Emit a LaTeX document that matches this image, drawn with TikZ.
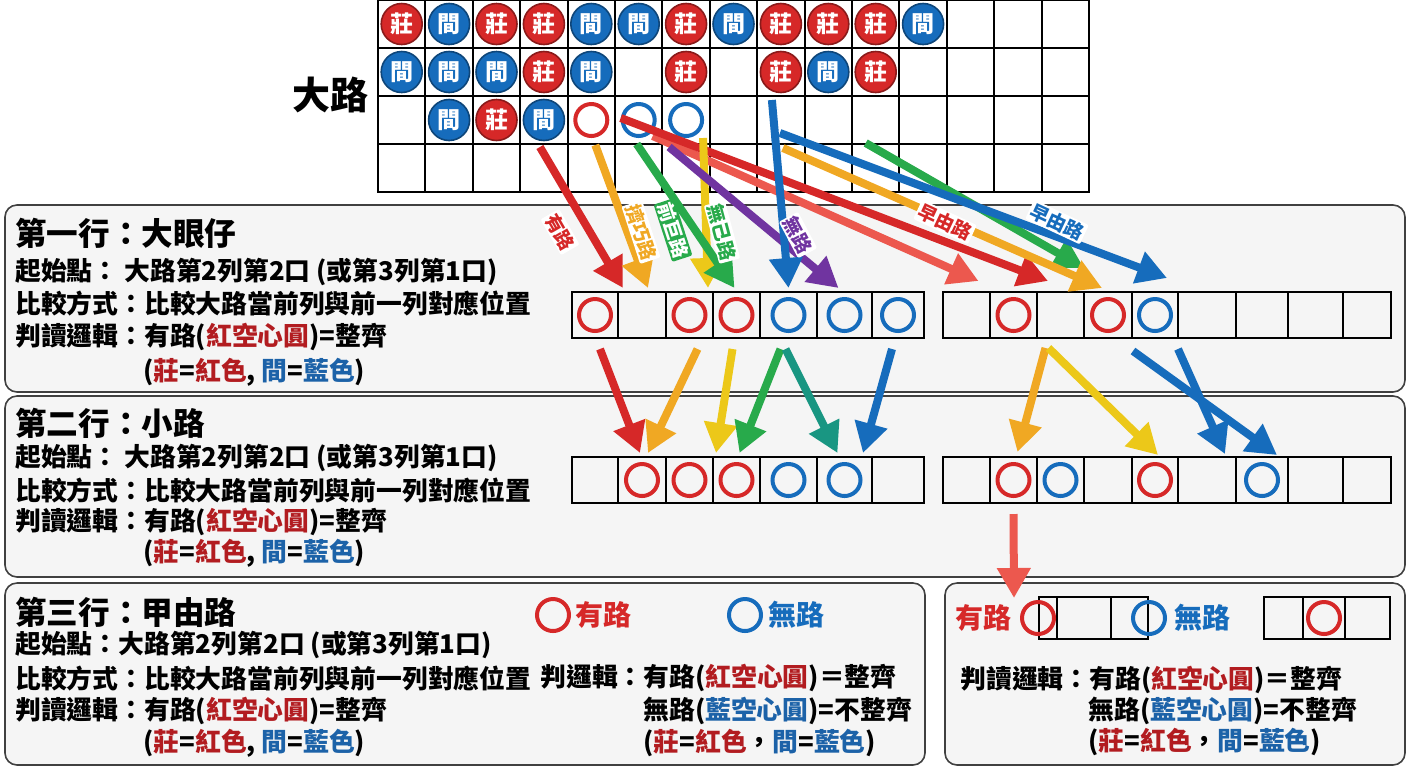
\documentclass[tikz,border=0pt]{standalone}
\usepackage{fontspec}
\setmainfont{Noto Sans CJK TC}
\usetikzlibrary{arrows.meta,calc}
\definecolor{cR}{RGB}{214,40,40}
\definecolor{cO}{RGB}{240,168,35}
\definecolor{cY}{RGB}{236,200,25}
\definecolor{cG}{RGB}{40,170,75}
\definecolor{cT}{RGB}{25,150,130}
\definecolor{cP}{RGB}{112,52,160}
\definecolor{cB}{RGB}{22,108,188}
\definecolor{cS}{RGB}{236,88,78}
\definecolor{tR}{RGB}{178,28,32}
\definecolor{tB}{RGB}{28,98,168}
\newcommand\redt[1]{\textcolor{tR}{#1}}
\newcommand\bluet[1]{\textcolor{tB}{#1}}
\begin{document}
\begin{tikzpicture}[x=0.5pt,y=-0.5pt,
    cell/.style={draw,line width=1pt,inner sep=0,minimum height=23pt},
    tok/.style={circle,draw=#1!65!black,line width=0.8pt,fill=#1,text=white,inner sep=0,minimum size=20.5pt,font=\bfseries\fontsize{11.5}{11.5}\selectfont},
    ring/.style={circle,draw=#1,line width=2pt,inner sep=0,minimum size=16pt},
    arr/.style={draw=#1,line width=4pt,-{Triangle[length=15pt,width=16pt]}},
    panel/.style={draw=black!75,line width=0.8pt,fill=black!4,rounded corners=6pt},
    ttl/.style={anchor=west,inner sep=0,font=\bfseries\fontsize{15.8}{16}\selectfont},
    txt/.style={anchor=west,inner sep=0,font=\bfseries\fontsize{12.9}{13}\selectfont},
    lgd/.style={anchor=west,inner sep=0,text=#1,font=\bfseries\fontsize{14}{14}\selectfont},
    tag/.style={fill=white,rounded corners=1pt,inner sep=0.8pt,text=#1,font=\bfseries\fontsize{9.5}{9.5}\selectfont},
    tagf/.style={fill=#1,rounded corners=1pt,inner sep=0.8pt,text=white,font=\bfseries\fontsize{9.5}{9.5}\selectfont}]
  \useasboundingbox (0,0) rectangle (1408,768);
  \draw[panel] (5,205) rectangle (1405,392);
  \draw[panel] (5,396) rectangle (1405,577);
  \draw[panel] (5,583) rectangle (925,765);
  \draw[panel] (945,583) rectangle (1405,765);
  % big road
  \node[font=\bfseries\fontsize{19}{19}\selectfont] (dalu) at (330,95) {大路};
  \foreach \r in {1,...,4}
    \foreach \c in {1,...,15}
      \node[cell,minimum width=23.7pt,minimum height=24pt] (g-\r-\c) at ({378+47.4*(\c-0.5)},{48*(\r-0.5)}) {};
  \foreach \r/\c in {1/1,1/3,1/4,1/7,1/9,1/10,1/11,2/4,2/7,2/9,2/11,3/3}
    \node[tok=cR] (z-\r-\c) at (g-\r-\c) {莊};
  \foreach \r/\c in {1/2,1/5,1/6,1/8,1/12,2/1,2/2,2/3,2/5,2/10,3/2,3/4}
    \node[tok=cB] (x-\r-\c) at (g-\r-\c) {間};
  \node[ring=cR] (h-3-5) at (g-3-5) {};
  \foreach \c in {6,7} \node[ring=cB] (h-3-\c) at (g-3-\c) {};
  % strips
  \foreach \i/\a/\b in {1/572/618,2/618/666,3/666/713,4/713/760,5/760/817,6/817/872,7/872/924} {
    \node[cell,minimum width={(\b-\a)*0.5pt}] (aL\i) at ({(\a+\b)/2},315) {};
    \node[cell,minimum width={(\b-\a)*0.5pt}] (bL\i) at ({(\a+\b)/2},480) {};
  }
  \foreach \i/\a/\b in {1/943/990,2/990/1037,3/1037/1084,4/1084/1132,5/1132/1178,6/1178/1236,7/1236/1288,8/1288/1343,9/1343/1391} {
    \node[cell,minimum width={(\b-\a)*0.5pt}] (aR\i) at ({(\a+\b)/2},315) {};
    \node[cell,minimum width={(\b-\a)*0.5pt}] (bR\i) at ({(\a+\b)/2},480) {};
  }
  \foreach \n/\c in {aL1/cR,aL3/cR,aL4/cR,aL5/cB,aL6/cB,aL7/cB,bL2/cR,bL3/cR,bL4/cR,bL5/cB,bL6/cB,aR2/cR,aR4/cR,aR5/cB,bR2/cR,bR3/cB,bR5/cR,bR7/cB}
    \node[ring=\c] (o-\n) at (\n) {};
  % panel 4 boxes
  \foreach \i/\a/\b in {1/1039/1057,2/1057/1111,3/1111/1148,4/1264/1303,5/1303/1345,6/1345/1390}
    \node[cell,minimum width={(\b-\a)*0.5pt},minimum height=21pt] (q\i) at ({(\a+\b)/2},618) {};
  \node[ring=cR] (yRing) at (q1.west) {};
  \node[ring=cB] (nRing) at (q3.east) {};
  \node[ring=cR] (zRing) at (q5) {};
  \node[lgd=cR,anchor=east] (yes4) at ($(yRing.west)+(-8,0)$) {有路};
  \node[lgd=cB] (no4) at ($(nRing.east)+(7,0)$) {無路};
  % long arrows
  \draw[arr=cS] ($(g-3-6.center)+(14,16)$) -- ($(aR1.north)+(12,-10)$);
  \draw[arr=cR] ($(g-3-6.center)+(-18,-2)$) -- ($(aR2.north east)+(10,-10)$);
  \draw[arr=cG] ($(g-4-11.north)+(-10,0)$) -- ($(aR4.north west)+(1,-23)$);
  \draw[arr=cO] ($(g-4-9.north)+(2,5)$) -- ($(aR4.north)+(-6,-3)$);
  \draw[arr=cB] ($(g-3-9.center)+(-1,13)$) -- ($(aR6.north west)+(-10,-13)$);
  % short arrows
  \draw[arr=cR] ($(g-4-4.north)+(-4,4)$) -- ($(aL1.north east)+(4,-3)$);
  \draw[arr=cO] ($(g-4-5.north)+(4,2)$) -- ($(aL2.north)+(6,-3)$);
  \draw[arr=cY] ($(g-3-7.south)+(17,-7)$) -- ($(aL3.north east)+(-6,-3)$);
  \draw[arr=cG] ($(g-3-6.south)+(-2,-1)$) -- ($(aL4.north)+(-2,-3)$);
  \draw[arr=cP] ($(g-3-7.south)+(-17,2)$) -- ($(aL6.north)+(-6,-3)$);
  \draw[arr=cB] ($(g-3-9.center)+(-9,-20)$) -- ($(aL5.north)+(0,-3)$);
  \draw[arr=cR] ($(aL1.south)+(5,10)$) -- ($(bL2.north)+(-2,-3)$);
  \draw[arr=cO] ($(aL3.south)+(8,10)$) -- ($(bL2.north)+(6,-3)$);
  \draw[arr=cY] ($(aL4.south)+(-4,10)$) -- ($(bL3.north east)+(2,-3)$);
  \draw[arr=cG] ($(aL5.south)+(-8,10)$) -- ($(bL4.north)+(3,-3)$);
  \draw[arr=cT] ($(aL5.south)+(-3,10)$) -- ($(bL6.north)+(-7,-3)$);
  \draw[arr=cB] ($(aL7.south)+(-6,10)$) -- ($(bL6.north east)+(-10,-3)$);
  \draw[arr=cO] ($(aR3.south)+(-15,9)$) -- ($(bR2.north)+(4,-4)$);
  \draw[arr=cY] ($(aR3.south)+(-12,9)$) -- ($(bR5.north)+(3,-1)$);
  \draw[arr=cB] ($(aR5.south)+(-22,12)$) -- ($(bR7.north)+(15,-1)$);
  \draw[arr=cB] ($(aR6.south)+(-29,10)$) -- ($(bR6.north)+(18,-2)$);
  \draw[arr=cS] ($(bR2.south)+(0,10)$) -- ($(yRing.north)+(-24,-2)$);
  % arrow tags
  \node[tag=cR,rotate=-60] (l1) at (560,232) {有路};
  \node[tag=cO,rotate=-72] (l2) at (641,232) {擠巧路};
  \node[tagf=cG,rotate=-72] (l3) at (673,230) {前巨路};
  \node[tag=cG,rotate=-75] (l4) at (722,232) {無己路};
  \node[tag=cP,rotate=-62] (l5) at (798,235) {無路};
  \node[tag=cR,rotate=-25] (l6) at (945,222) {早由路};
  \node[tag=cB,rotate=-25] (l7) at (1057,222) {早由路};
  % panel 1
  \node[ttl] (p1) at (15,233) {第一行：大眼仔};
  \node[txt] (p1a) at (15,272) {起始點： 大路第2列第2口 (或第3列第1口)};
  \node[txt] (p1b) at (15,304) {比較方式：比較大路當前列與前一列對應位置};
  \node[txt] (p1c) at (15,337) {判讀邏輯：有路(\redt{紅空心圓})=整齊};
  \node[txt] (p1d) at (143,372) {(\redt{莊}=\redt{紅色}, \bluet{間}=\bluet{藍色})};
  % panel 2
  \node[ttl] (p2) at (15,423) {第二行：小路};
  \node[txt] (p2a) at (15,458) {起始點： 大路第2列第2口 (或第3列第1口)};
  \node[txt] (p2b) at (15,490) {比較方式：比較大路當前列與前一列對應位置};
  \node[txt] (p2c) at (15,522) {判讀邏輯：有路(\redt{紅空心圓})=整齊};
  \node[txt] (p2d) at (143,553) {(\redt{莊}=\redt{紅色}, \bluet{間}=\bluet{藍色})};
  % panel 3
  \node[ttl] (p3) at (15,612) {第三行：甲由路};
  \node[ring=cR] (p3r) at (553,615) {};
  \node[lgd=cR] (p3y) at (575,615) {有路};
  \node[ring=cB] (p3b) at (745,615) {};
  \node[lgd=cB] (p3n) at (768,615) {無路};
  \node[txt] (p3a) at (15,645) {起始點：大路第2列第2口 (或第3列第1口)};
  \node[txt] (p3b2) at (15,678) {比較方式：比較大路當前列與前一列對應位置};
  \node[txt] (p3c) at (15,711) {判讀邏輯：有路(\redt{紅空心圓})=整齊};
  \node[txt] (p3d) at (143,743) {(\redt{莊}=\redt{紅色}, \bluet{間}=\bluet{藍色})};
  \node[txt] (p3e) at (540,678) {判邏輯：有路(\redt{紅空心圓})＝整齊};
  \node[txt] (p3f) at (643,711) {無路(\bluet{藍空心圓})=不整齊};
  \node[txt] (p3g) at (643,743) {(\redt{莊}=\redt{紅色}，\bluet{間}=\bluet{藍色})};
  % panel 4
  \node[txt] (p4a) at (960,680) {判讀邏輯：有路(\redt{紅空心圓})＝整齊};
  \node[txt] (p4b) at (1088,711) {無路(\bluet{藍空心圓})=不整齊};
  \node[txt] (p4c) at (1088,742) {(\redt{莊}=\redt{紅色}，\bluet{間}=\bluet{藍色})};
\end{tikzpicture}
\end{document}
